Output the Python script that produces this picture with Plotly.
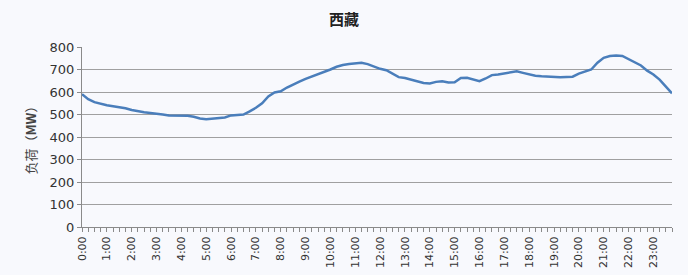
import plotly.graph_objects as go

# 15-minute load data (MW), 96 points from 0:00 to 23:45
load_mw = [
    590, 568, 555, 547, 541, 537, 533, 528,
    520, 514, 510, 507, 505, 500, 496, 495,
    496, 494, 490, 482, 479, 481, 484, 487,
    496, 499, 500, 514, 530, 550, 580, 598,
    603, 620, 634, 646, 658, 668, 678, 688,
    700, 712, 720, 724, 726, 730, 724, 712,
    703, 697, 680, 666, 662, 655, 645, 640,
    638, 645, 648, 642, 643, 662, 663, 655,
    648, 660, 675, 678, 683, 690, 692, 685,
    678, 672, 670, 668, 669, 666, 667, 668,
    682, 690, 700, 730, 752, 760, 762, 760,
    745, 733, 718, 695, 678, 655, 625, 594,
]
time_labels = [f"{h}:{m:02d}" for h in range(24) for m in (0, 15, 30, 45)]
hour_labels = [f"{h}:00" for h in range(24)]
y_ticks = [0, 100, 200, 300, 400, 500, 600, 700, 800]

idx = list(range(len(load_mw)))
hour_idx = [time_labels.index(lbl) for lbl in hour_labels]

fig = go.Figure()
fig.add_trace(go.Scatter(
    x=idx, y=load_mw, mode="lines",
    line=dict(color="#4a7ebb", width=2.5),
    text=time_labels, hovertemplate="%{text}: %{y}<extra></extra>",
    showlegend=False,
))

bg = "#f8f9fd"
fig.update_layout(
    width=688, height=275,
    margin=dict(l=82, r=16, t=47, b=48, autoexpand=False),
    paper_bgcolor=bg, plot_bgcolor=bg,
    title=dict(text="<b>西藏</b>", x=0.5, xanchor="center", y=0.93, yanchor="middle",
               font=dict(family="Noto Sans CJK SC", size=15, color="#222")),
    font=dict(family="DejaVu Sans", color="#333"),
)
fig.update_xaxes(
    automargin=False,
    range=[0, len(load_mw) - 1],
    tickmode="array", tickvals=hour_idx, ticktext=hour_labels,
    tickangle=-90, tickfont=dict(size=11, color="#333"),
    showgrid=False, zeroline=False,
    showline=True, linecolor="#8a8a8a", linewidth=1,
    ticks="outside", ticklen=4, tickcolor="#8a8a8a",
    minor=dict(ticks="outside", tickmode="linear", tick0=0, dtick=1, ticklen=4, tickcolor="#8a8a8a"),
)
fig.update_yaxes(
    automargin=False,
    range=[0, 800], tickmode="array", tickvals=y_ticks,
    tickfont=dict(size=13, color="#333"),
    showgrid=True, gridcolor="#a0a0a0", gridwidth=1,
    zeroline=False,
    showline=True, linecolor="#8a8a8a", linewidth=1,
    ticks="outside", ticklen=4, tickcolor="#8a8a8a",
    title=dict(text="负荷（<b>MW</b>）", font=dict(family="Noto Sans CJK SC", size=13, color="#444"), standoff=10),
)

fig.write_html("out.html")
